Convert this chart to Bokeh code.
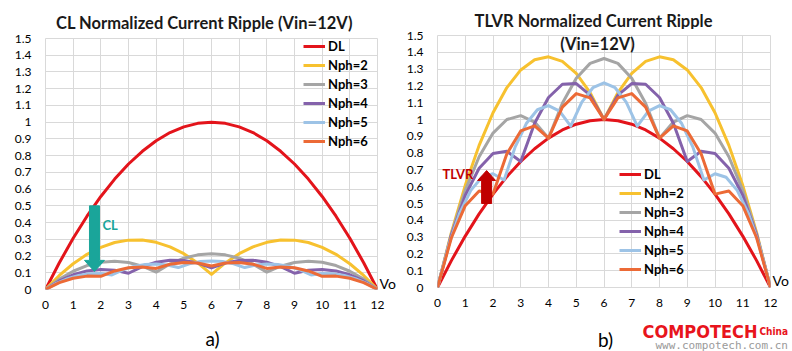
from bokeh.plotting import figure
from bokeh.layouts import row, column
from bokeh.models import Range1d, Legend, LegendItem, Label, CustomJSTickFormatter, LinearAxis
from bokeh.core.properties import value
from bokeh.embed import file_html
from bokeh.resources import INLINE

# ---------------- data ----------------
VO = [0, 0.5, 1, 1.5, 2, 2.5, 3, 3.5, 4, 4.5, 5, 5.5, 6, 6.5, 7, 7.5, 8, 8.5, 9, 9.5, 10, 10.5, 11, 11.5, 12]
VO5 = [0, 0.4, 0.8, 1.2, 1.6, 2, 2.4, 2.8, 3.2, 3.6, 4, 4.4, 4.8, 5.2, 5.6, 6, 6.4, 6.8, 7.2, 7.6, 8, 8.4, 8.8, 9.2, 9.6, 10, 10.4, 10.8, 11.2, 11.6, 12]

DL = [0, 0.160, 0.306, 0.438, 0.556, 0.660, 0.750, 0.826, 0.889, 0.938, 0.972, 0.993, 1.000,
      0.993, 0.972, 0.938, 0.889, 0.826, 0.750, 0.660, 0.556, 0.438, 0.306, 0.160, 0]

CL_N2 = [0, 0.084, 0.154, 0.210, 0.252, 0.281, 0.295, 0.296, 0.282, 0.255, 0.214, 0.159, 0.090,
         0.159, 0.214, 0.255, 0.282, 0.296, 0.295, 0.281, 0.252, 0.210, 0.154, 0.084, 0]
CL_N3 = [0, 0.062, 0.109, 0.143, 0.163, 0.169, 0.161, 0.139, 0.104, 0.152, 0.187, 0.207, 0.214,
         0.207, 0.187, 0.152, 0.104, 0.139, 0.161, 0.169, 0.163, 0.143, 0.109, 0.062, 0]
CL_N4 = [0, 0.051, 0.088, 0.111, 0.120, 0.115, 0.097, 0.137, 0.163, 0.175, 0.174, 0.158, 0.129,
         0.158, 0.174, 0.175, 0.163, 0.137, 0.097, 0.115, 0.120, 0.111, 0.088, 0.051, 0]
CL_N5 = [0, 0.037, 0.065, 0.084, 0.094, 0.095, 0.087, 0.117, 0.138, 0.149, 0.152, 0.146, 0.131, 0.153, 0.167, 0.171,
         0.167, 0.153, 0.131, 0.146, 0.152, 0.149, 0.138, 0.117, 0.087, 0.095, 0.094, 0.084, 0.065, 0.037, 0]
CL_N6 = [0, 0.041, 0.067, 0.080, 0.079, 0.111, 0.130, 0.135, 0.126, 0.151, 0.161, 0.158, 0.141,
         0.158, 0.161, 0.151, 0.126, 0.135, 0.130, 0.111, 0.079, 0.080, 0.067, 0.041, 0]

TLVR_N2 = [0, 0.326, 0.608, 0.846, 1.040, 1.190, 1.295, 1.356, 1.373, 1.346, 1.275, 1.160, 1.000,
           1.160, 1.275, 1.346, 1.373, 1.356, 1.295, 1.190, 1.040, 0.846, 0.608, 0.326, 0]
TLVR_N3 = [0, 0.319, 0.578, 0.778, 0.919, 1.000, 1.023, 0.985, 0.889, 1.097, 1.245, 1.334, 1.363,
           1.334, 1.245, 1.097, 0.889, 0.985, 1.023, 1.000, 0.919, 0.778, 0.578, 0.319, 0]
TLVR_N4 = [0, 0.311, 0.548, 0.710, 0.798, 0.811, 0.750, 0.978, 1.131, 1.210, 1.214, 1.145, 1.000,
           1.145, 1.214, 1.210, 1.131, 0.978, 0.750, 0.811, 0.798, 0.710, 0.548, 0.311, 0]
TLVR_N5 = [0, 0.250, 0.443, 0.578, 0.656, 0.677, 0.640, 0.837, 0.976, 1.058, 1.083, 1.050, 0.960, 1.103, 1.189, 1.218,
           1.189, 1.103, 0.960, 1.050, 1.083, 1.058, 0.976, 0.837, 0.640, 0.677, 0.656, 0.578, 0.443, 0.250, 0]
TLVR_N6 = [0, 0.296, 0.487, 0.574, 0.556, 0.796, 0.932, 0.962, 0.889, 1.074, 1.154, 1.129, 1.000,
           1.129, 1.154, 1.074, 0.889, 0.962, 0.932, 0.796, 0.556, 0.574, 0.487, 0.296, 0]

SERIES_NAMES = ["DL", "Nph=2", "Nph=3", "Nph=4", "Nph=5", "Nph=6"]
X_TICKS = [0, 1, 2, 3, 4, 5, 6, 7, 8, 9, 10, 11, 12]
Y_TICKS = [0, 0.1, 0.2, 0.3, 0.4, 0.5, 0.6, 0.7, 0.8, 0.9, 1, 1.1, 1.2, 1.3, 1.4, 1.5]

COLORS = ["#e3141b", "#f7c12f", "#a5a5a5", "#8462ab", "#9dc3e6", "#ec6a36"]
FONT = "Lato"
GRID = "#d9d9d9"
MARK_FONT = "DejaVu Sans Condensed, DejaVu Sans, sans-serif"


def make_fig(fw, fh, left, right, top, bottom, vo_y):
    p = figure(frame_width=fw, frame_height=fh, x_range=Range1d(0, 12), y_range=Range1d(0, 1.5),
               output_backend="svg", toolbar_location=None, frame_align=False,
               min_border_left=left, min_border_right=right, min_border_top=top, min_border_bottom=bottom)
    p.xaxis.ticker = X_TICKS
    p.yaxis.ticker = Y_TICKS
    p.yaxis.formatter = CustomJSTickFormatter(code="return (Math.round(tick*10)/10).toString();")
    # "Vo" marker at the right end of the horizontal axis
    vo_axis = LinearAxis(ticker=[vo_y], formatter=CustomJSTickFormatter(code="return 'Vo';"))
    p.add_layout(vo_axis, "right")
    for ax in (p.xaxis[0], p.yaxis[0], vo_axis):
        ax.axis_line_color = None
        ax.major_tick_line_color = None
        ax.minor_tick_line_color = None
        ax.major_tick_out = 0
        ax.major_tick_in = 0
        ax.major_label_text_font = FONT
        ax.major_label_text_font_size = "12px"
        ax.major_label_text_color = "#000000"
    vo_axis.major_label_text_font_size = "14px"
    vo_axis.major_label_standoff = 2
    p.yaxis[0].major_label_standoff = 14
    p.xaxis.major_label_standoff = 11
    p.xgrid.grid_line_color = GRID
    p.ygrid.grid_line_color = GRID
    p.outline_line_color = GRID
    p.background_fill_color = "white"
    p.border_fill_color = "white"
    return p


def strip(w, h):
    s = figure(width=w, height=h, x_range=Range1d(0, w), y_range=Range1d(0, h),
               x_axis_type=None, y_axis_type=None, output_backend="svg", toolbar_location=None,
               frame_align=False,
               min_border=0, min_border_left=0, min_border_right=0, min_border_top=0, min_border_bottom=0)
    s.outline_line_color = None
    s.background_fill_color = "white"
    s.border_fill_color = "white"
    return s


def stext(s, x, y, text, size, color="#000000", style="normal", align="center", baseline="middle", font=FONT):
    s.text(x=[x], y=[y], text=[text], text_font=value(font), text_font_size=value(size),
           text_color=color, text_font_style=style, text_align=align, text_baseline=baseline)


def add_lines(p, xs_list, ys_list, legend_loc):
    items = []
    for name, xs, ys, c in zip(SERIES_NAMES, xs_list, ys_list, COLORS):
        r = p.line(xs, ys, line_color=c, line_width=3, line_join="round")
        items.append(LegendItem(label=name, renderers=[r]))
    leg = Legend(items=items, location=legend_loc, label_text_font=FONT, label_text_font_size="13px",
                 label_text_font_style="bold", label_text_color="#000000",
                 glyph_width=22, glyph_height=16, label_height=16, spacing=3, padding=2, margin=0,
                 label_standoff=3, border_line_color=None, background_fill_alpha=0)
    p.add_layout(leg)


def arrow_patch(p, xc, y_tail, y_base, y_tip, half_shaft_px, half_head_px, px_per_unit, color):
    hs = half_shaft_px / px_per_unit
    hh = half_head_px / px_per_unit
    xs = [xc - hs, xc + hs, xc + hs, xc + hh, xc, xc - hh, xc - hs]
    ys = [y_tail, y_tail, y_base, y_base, y_tip, y_base, y_base]
    p.patch(xs, ys, fill_color=color, line_color=color, line_width=1)


def label(p, x, y, text, size, color="#000000", style="normal", align="center"):
    p.add_layout(Label(x=x, y=y, text=text, text_font=FONT, text_font_size=size, text_color=color,
                       text_font_style=style, text_align=align, text_baseline="middle"))


TITLE_COLOR = "#1a1a1a"
TITLE_SIZE = "16.5px"

# ---------------- left chart (CL) ----------------
top1 = strip(396, 32)
stext(top1, 204, 10, "CL Normalized Current Ripple (Vin=12V)", TITLE_SIZE, color=TITLE_COLOR, style="bold")

p1 = make_fig(332, 251, 45, 19, 6, 25, 0.036)
add_lines(p1, [VO, VO, VO, VO, VO5, VO], [DL, CL_N2, CL_N3, CL_N4, CL_N5, CL_N6], (258, 140))
arrow_patch(p1, 1.77, 0.5, 0.174, 0.108, 5, 10, 332 / 12, "#1aa59a")
label(p1, 2.06, 0.383, "CL", "13px", color="#1aa59a", style="bold", align="left")

bot1 = strip(396, 37)
stext(bot1, 212, 13, "a)", "19px")

left_col = column(top1, p1, bot1)

# ---------------- right chart (TLVR) ----------------
top2 = strip(396, 29)
stext(top2, 195, 9, "TLVR Normalized Current Ripple", TITLE_SIZE, color=TITLE_COLOR, style="bold")

p2 = make_fig(333, 252, 39, 24, 6, 25, 0.042)
add_lines(p2, [VO, VO, VO, VO, VO5, VO], [DL, TLVR_N2, TLVR_N3, TLVR_N4, TLVR_N5, TLVR_N6], (182, 10))
arrow_patch(p2, 1.77, 0.5, 0.637, 0.696, 5, 9, 333 / 12, "#c00000")
label(p2, 0.18, 0.673, "TLVR", "13px", color="#c00000", style="bold", align="left")
label(p2, 5.77, 1.452, "(Vin=12V)", TITLE_SIZE, color=TITLE_COLOR, style="bold")

bot2 = strip(396, 39)
stext(bot2, 207, 12, "b)", "19px")
stext(bot2, 359, 20, "COMPOTECH", "18px", color="#e8141c", style="bold", align="right",
      baseline="alphabetic", font=MARK_FONT)
stext(bot2, 361, 20, "China", "10px", color="#e8141c", style="bold", align="left",
      baseline="alphabetic", font=MARK_FONT)
stext(bot2, 257, 6, "www.compotech.com.cn", "11px", color="#9a9a9a", align="left",
      baseline="alphabetic", font="DejaVu Sans Mono")

right_col = column(top2, p2, bot2)

layout = row(left_col, right_col)
open("out.html", "w").write(file_html(layout, INLINE))
